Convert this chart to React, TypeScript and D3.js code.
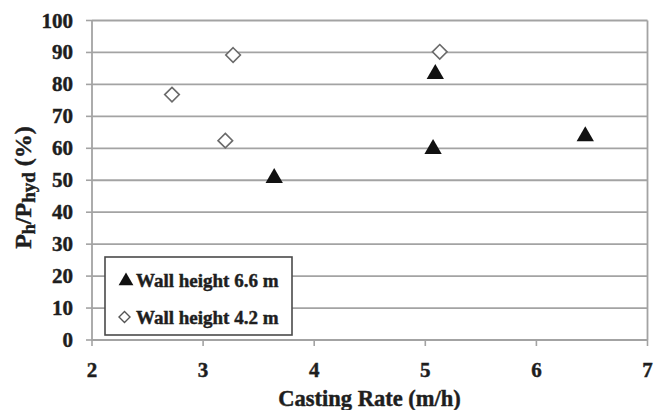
import React from "react";
import * as d3 from "d3";

// Casting rate (m/h) vs lateral pressure ratio (%)
const wall66X = [3.64, 5.09, 5.07, 6.44];
const wall66Y = [51, 83.6, 60.1, 64.1];
const wall42X = [2.72, 3.27, 3.2, 5.13];
const wall42Y = [76.8, 89.2, 62.4, 90.2];
const xTicks = [2, 3, 4, 5, 6, 7];
const yTicks = [0, 10, 20, 30, 40, 50, 60, 70, 80, 90, 100];
const seriesNames = ["Wall height 6.6 m", "Wall height 4.2 m"];

const W = 662;
const H = 410;
const M = { left: 92, right: 647.5, top: 20.5, bottom: 340 };
const FONT = "'Liberation Serif', 'Times New Roman', serif";

export default function App() {
  const x = d3.scaleLinear().domain([2, 7]).range([M.left, M.right]);
  const y = d3.scaleLinear().domain([0, 100]).range([M.bottom, M.top]);

  const tri = d3.symbol().type(d3.symbolTriangle).size(130)()!;
  const triSmall = d3.symbol().type(d3.symbolTriangle).size(95)()!;
  const dia = (s: number) => `M0,${-s}L${s},0L0,${s}L${-s},0Z`;

  const grid = "#a3a3a3";
  const ink = "#1e1e1e";
  // heavier bold text
  const textStyle = { stroke: ink, strokeWidth: 0.45 } as const;

  return (
    <div style={{ position: "absolute", left: 0, top: 0 }}>
      <svg width={W} height={H} style={{ display: "block", background: "#fff" }}>
        {/* horizontal gridlines */}
        {yTicks.map((t) => (
          <line key={"g" + t} x1={M.left} x2={M.right} y1={y(t)} y2={y(t)} stroke={grid} strokeWidth={1.8} />
        ))}
        {/* right border and left axis */}
        <line x1={M.right} x2={M.right} y1={M.top} y2={M.bottom} stroke={grid} strokeWidth={1.8} />
        <line x1={M.left} x2={M.left} y1={M.top} y2={M.bottom + 0.9} stroke={grid} strokeWidth={1.8} />
        {/* y ticks */}
        {yTicks.map((t) => (
          <g key={"y" + t}>
            <line x1={M.left - 6} x2={M.left} y1={y(t)} y2={y(t)} stroke={grid} strokeWidth={1.6} />
            <text x={73} y={y(t) + 7} textAnchor="end" fontFamily={FONT} fontWeight="bold" fontSize={21} fill={ink} style={textStyle}>
              {t}
            </text>
          </g>
        ))}
        {/* x ticks */}
        {xTicks.map((t) => (
          <g key={"x" + t}>
            <line x1={x(t)} x2={x(t)} y1={M.bottom} y2={M.bottom + 6} stroke={grid} strokeWidth={1.6} />
            <text x={x(t)} y={377} textAnchor="middle" fontFamily={FONT} fontWeight="bold" fontSize={21} fill={ink} style={textStyle}>
              {t}
            </text>
          </g>
        ))}
        {/* axis titles */}
        <text x={369.5} y={406} textAnchor="middle" fontFamily={FONT} fontWeight="bold" fontSize={22.5} fill={ink} style={textStyle}>
          Casting Rate (m/h)
        </text>
        <text
          transform={`translate(31,187.5) rotate(-90)`}
          textAnchor="middle"
          fontFamily={FONT}
          fontWeight="bold"
          fontSize={24}
          fill={ink}
          style={textStyle}
        >
          P<tspan fontSize={18} dy={4}>h</tspan>
          <tspan dy={-4}>/P</tspan>
          <tspan fontSize={19} dy={4}>hyd</tspan>
          <tspan dy={-4}> (%)</tspan>
        </text>
        {/* series: wall height 4.2 m */}
        {wall42X.map((v, i) => (
          <path
            key={"d" + i}
            d={dia(7.3)}
            transform={`translate(${x(v)},${y(wall42Y[i])})`}
            fill="#fff"
            stroke="#6a6a6a"
            strokeWidth={1.6}
          />
        ))}
        {/* series: wall height 6.6 m */}
        {wall66X.map((v, i) => (
          <path key={"t" + i} d={tri} transform={`translate(${x(v)},${y(wall66Y[i]) + 1})`} fill="#111" />
        ))}
        {/* legend */}
        <rect x={105} y={257} width={187} height={78} fill="#fff" stroke="#4a4a4a" strokeWidth={1.6} />
        <path d={triSmall} transform="translate(126,281)" fill="#111" />
        <text x={136} y={287} fontFamily={FONT} fontWeight="bold" fontSize={19} fill={ink} style={textStyle}>
          {seriesNames[0]}
        </text>
        <path d={dia(5.5)} transform="translate(124.5,317)" fill="#fff" stroke="#555" strokeWidth={1.4} />
        <text x={136} y={324} fontFamily={FONT} fontWeight="bold" fontSize={19} fill={ink} style={textStyle}>
          {seriesNames[1]}
        </text>
      </svg>
    </div>
  );
}
